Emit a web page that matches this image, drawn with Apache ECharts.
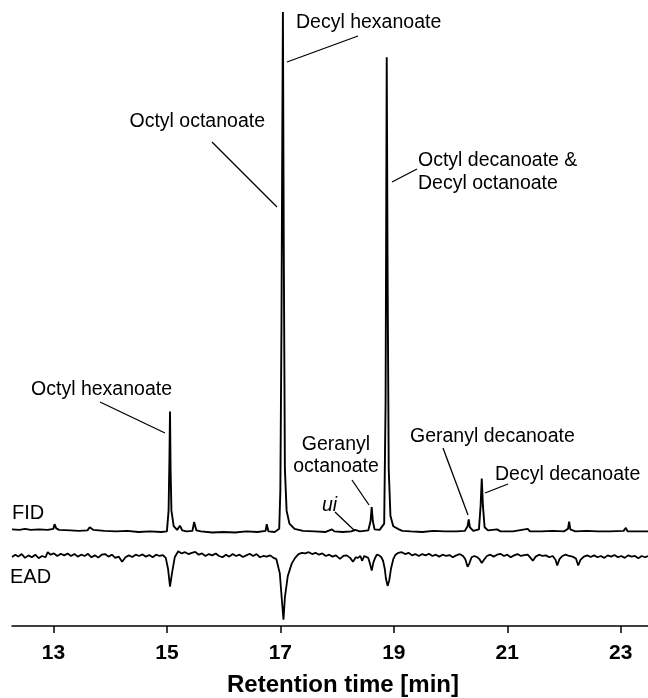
<!DOCTYPE html>
<html>
<head>
<meta charset="utf-8">
<script src="https://cdn.jsdelivr.net/npm/echarts@6/dist/echarts.min.js"></script>
<style>
html,body{margin:0;padding:0;background:#fff;}
#c{width:648px;height:698px;}
</style>
</head>
<body>
<div id="c"></div>
<script>
// ---- data (retention time in min, signal in relative units) ----
const tickValues = [13, 15, 17, 19, 21, 23];
const xTitle = 'Retention time [min]';

// FID trace: time (min) and signal (% of largest peak)
const fidTime = [12.27,12.40,12.50,12.60,12.75,12.90,13.00,13.02,13.05,13.10,13.30,13.45,13.60,13.64,13.70,13.90,14.10,14.30,14.50,14.70,14.90,15.00,15.03,15.045,15.055,15.065,15.08,15.12,15.18,15.23,15.27,15.35,15.45,15.48,15.52,15.60,15.80,16.00,16.20,16.40,16.60,16.74,16.76,16.79,16.90,16.98,17.00,17.02,17.03,17.045,17.06,17.08,17.11,17.16,17.25,17.40,17.60,17.80,17.91,17.95,18.10,18.25,18.32,18.40,18.55,18.59,18.61,18.63,18.66,18.75,18.83,18.855,18.875,18.89,18.91,18.94,18.99,19.09,19.15,19.30,19.50,19.70,19.90,20.10,20.25,20.30,20.32,20.34,20.40,20.50,20.53,20.55,20.57,20.60,20.66,20.82,20.88,21.10,21.36,21.40,21.60,21.80,22.00,22.07,22.09,22.11,22.20,22.40,22.60,22.80,23.05,23.09,23.12,23.30,23.48];
const fidSignal = [0.4,0.3,0.5,0.3,0.4,0.3,0.5,1.4,0.6,0.3,0.2,0.1,0.2,0.8,0.3,0.1,0.0,0.1,-0.1,0.0,-0.1,0.0,4.0,14,23.1,12,4,1.0,0.3,1.1,0.2,0.0,0.1,1.8,0.2,0.0,-0.2,-0.1,-0.2,0.0,-0.1,0.1,1.4,0.0,-0.1,0.5,8,40,66,100,55,12,4,1.5,0.5,0.1,0.0,-0.1,0.4,0.0,-0.1,0.0,0.3,0.0,0.2,2.0,4.7,2.0,0.4,0.3,1.5,25,91.3,50,12,3,1,0.4,0.1,0.0,-0.1,0.1,0.0,0.0,0.1,1.0,2.3,0.8,0.1,0.4,5,10.2,5,0.8,0.2,0.4,0.0,0.0,0.5,0.0,0.0,0.1,0.0,0.5,1.9,0.4,0.0,0.1,0.0,0.0,0.1,0.7,0.0,0.0,0.0];

// EAD trace: time (min) and signal (mV)
const eadTime = [12.27,12.33,12.38,12.44,12.50,12.56,12.62,12.68,12.74,12.80,12.86,12.90,12.95,13.01,13.07,13.13,13.19,13.25,13.31,13.37,13.43,13.49,13.55,13.61,13.67,13.73,13.79,13.85,13.91,13.97,14.03,14.09,14.15,14.21,14.27,14.33,14.39,14.45,14.51,14.57,14.63,14.69,14.75,14.81,14.87,14.93,14.98,15.02,15.055,15.09,15.14,15.20,15.26,15.32,15.38,15.44,15.50,15.56,15.62,15.68,15.74,15.80,15.86,15.92,15.98,16.04,16.10,16.16,16.22,16.28,16.34,16.40,16.46,16.52,16.58,16.64,16.70,16.76,16.82,16.88,16.93,16.99,17.03,17.055,17.08,17.13,17.20,17.26,17.32,17.38,17.44,17.50,17.56,17.62,17.68,17.74,17.80,17.86,17.92,17.98,18.05,18.11,18.17,18.23,18.28,18.33,18.37,18.41,18.44,18.48,18.51,18.55,18.58,18.61,18.64,18.67,18.70,18.74,18.78,18.81,18.84,18.86,18.89,18.92,18.95,18.99,19.03,19.08,19.14,19.20,19.26,19.32,19.38,19.44,19.50,19.56,19.62,19.68,19.74,19.80,19.86,19.92,19.98,20.04,20.10,20.16,20.22,20.26,20.30,20.33,20.37,20.42,20.47,20.51,20.55,20.59,20.64,20.70,20.76,20.82,20.88,20.94,21.00,21.06,21.12,21.18,21.24,21.30,21.36,21.41,21.45,21.50,21.56,21.62,21.68,21.74,21.80,21.85,21.88,21.92,21.97,22.03,22.09,22.15,22.21,22.25,22.29,22.35,22.41,22.47,22.53,22.59,22.65,22.71,22.77,22.83,22.89,22.95,23.01,23.07,23.13,23.19,23.25,23.31,23.37,23.43,23.48];
const eadSignal = [-0.015,0.02,-0.01,0.03,-0.03,0.01,-0.02,0.02,-0.035,0.0,-0.02,0.06,0.02,0.04,0.0,0.035,0.01,0.04,0.0,0.03,-0.01,0.02,0.0,0.035,-0.02,0.01,-0.025,0.02,0.03,-0.01,0.02,-0.03,-0.01,-0.09,-0.02,0.01,-0.015,0.02,0.0,0.025,-0.01,0.015,-0.02,0.02,0.0,0.015,-0.03,-0.2,-0.48,-0.27,-0.015,0.075,0.04,0.06,0.03,0.05,0.065,0.02,0.04,0.0,0.03,0.01,0.04,0.0,-0.02,0.02,-0.01,0.03,0.0,0.02,-0.015,0.01,0.035,0.0,0.03,-0.02,0.0,-0.01,0.01,-0.03,-0.05,-0.27,-0.73,-1.0,-0.65,-0.32,-0.12,-0.03,0.03,0.05,0.04,0.06,0.03,0.05,0.02,0.04,0.0,0.02,-0.01,0.01,-0.045,0.0,0.01,-0.03,-0.09,-0.02,-0.03,0.0,-0.075,0.0,0.015,-0.03,-0.12,-0.23,-0.1,-0.03,0.02,0.01,-0.02,-0.075,-0.2,-0.35,-0.47,-0.38,-0.2,-0.05,0.02,0.05,0.06,0.03,0.05,0.01,0.03,0.0,0.03,0.01,0.035,0.0,0.02,-0.01,0.02,0.0,0.015,-0.02,0.01,0.03,0.0,-0.05,-0.17,-0.12,-0.02,0.0,-0.02,-0.05,-0.11,-0.06,0.0,0.02,-0.01,0.02,0.035,0.0,0.02,-0.02,0.01,0.03,0.0,0.015,0.02,-0.03,-0.075,-0.01,0.02,0.0,0.01,-0.02,0.0,-0.06,-0.15,-0.05,0.0,0.02,0.0,-0.01,-0.04,-0.15,-0.06,-0.01,0.01,-0.015,0.01,-0.02,0.0,-0.03,0.01,-0.01,0.015,-0.02,0.0,-0.03,0.01,-0.01,0.0,-0.035,0.0,-0.02,0.0];

const fidData = fidTime.map((t, i) => [t, fidSignal[i]]);
const eadData = eadTime.map((t, i) => [t, eadSignal[i]]);

const chart = echarts.init(document.getElementById('c'), null, {renderer: 'canvas'});
const FONT = '"Liberation Sans", Arial, sans-serif';
const lab = '19.5px ' + FONT;

function txt(text, x, y, align, font) {
  return {type: 'text', style: {text: text, x: x, y: y, font: font || lab, fill: '#000', textAlign: align || 'left', textVerticalAlign: 'middle'}};
}
function ln(x1, y1, x2, y2) {
  return {type: 'line', shape: {x1: x1, y1: y1, x2: x2, y2: y2}, style: {stroke: '#000', lineWidth: 1.3}};
}

chart.setOption({
  animation: false,
  backgroundColor: '#fff',
  grid: [
    {left: 12, right: 0, top: 12, height: 535},
    {left: 12, right: 0, top: 517.8, height: 112.2}
  ],
  xAxis: [
    {gridIndex: 0, type: 'value', min: 12.27, max: 23.48, show: false},
    {gridIndex: 1, type: 'value', min: 12.27, max: 23.48,
     axisLine: {show: true, onZero: false, lineStyle: {color: '#000', width: 1.5}},
     axisTick: {show: true, length: 7, customValues: tickValues, lineStyle: {color: '#000', width: 1.5}},
     axisLabel: {customValues: tickValues, margin: 17, color: '#000', fontSize: 21, fontWeight: 'bold', fontFamily: FONT},
     splitLine: {show: false},
     name: xTitle, nameLocation: 'middle', nameGap: 47,
     nameTextStyle: {color: '#000', fontSize: 24, fontWeight: 'bold', fontFamily: FONT, padding: [0, 0, 0, 26]}
    }
  ],
  yAxis: [
    {gridIndex: 0, type: 'value', min: -3, max: 100, show: false},
    {gridIndex: 1, type: 'value', min: -1.1, max: 0.6, show: false}
  ],
  series: [
    {type: 'line', xAxisIndex: 0, yAxisIndex: 0, data: fidData, showSymbol: false, symbol: 'none',
     lineStyle: {color: '#000', width: 1.9}},
    {type: 'line', xAxisIndex: 1, yAxisIndex: 1, data: eadData, showSymbol: false, symbol: 'none',
     lineStyle: {color: '#000', width: 1.8}}
  ],
  graphic: [
    txt('Decyl hexanoate', 296, 23),
    ln(287, 62, 358, 36),
    txt('Octyl octanoate', 265, 122, 'right'),
    ln(212, 142, 277, 207),
    txt('Octyl decanoate &', 418, 161),
    txt('Decyl octanoate', 418, 184),
    ln(392, 182, 417, 169),
    txt('Octyl hexanoate', 172, 390, 'right'),
    ln(100, 402, 165, 433),
    txt('Geranyl', 336, 445, 'center'),
    txt('octanoate', 336, 467, 'center'),
    ln(352, 480, 369, 505),
    txt('ui', 322, 506, 'left', 'italic 19.5px ' + FONT),
    ln(335, 512, 355, 531),
    txt('Geranyl decanoate', 410, 437),
    ln(443, 448, 468, 515),
    txt('Decyl decanoate', 495, 475),
    ln(485, 493, 508, 484),
    txt('FID', 12, 513, 'left', '20px ' + FONT),
    txt('EAD', 10, 577, 'left', '20px ' + FONT)
  ]
});
</script>
</body>
</html>
